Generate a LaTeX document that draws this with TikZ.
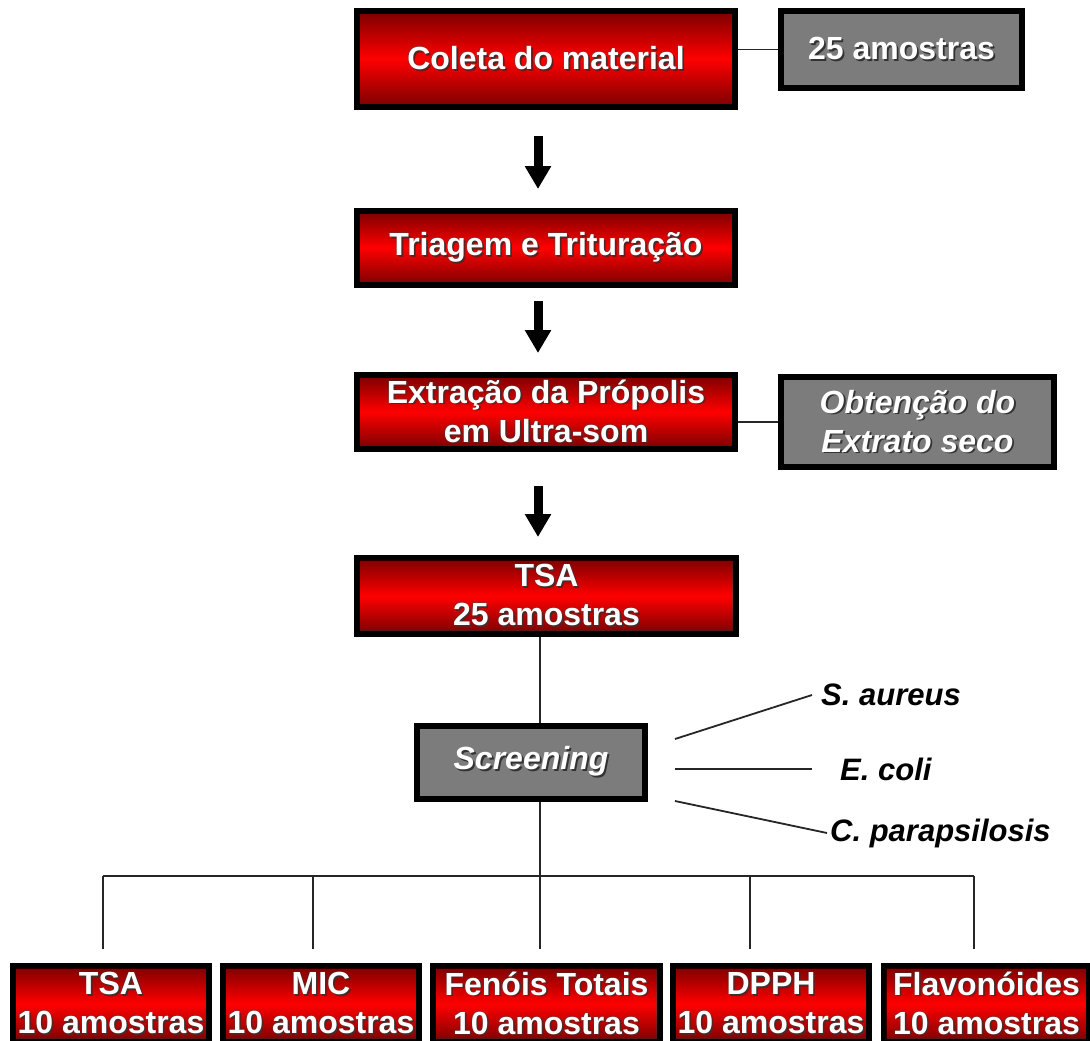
\documentclass[tikz,border=0pt]{standalone}
\usepackage{fontspec}
\setmainfont{Liberation Sans}
\usetikzlibrary{arrows.meta,calc}
\definecolor{dred}{HTML}{7A0000}
\definecolor{bred}{HTML}{FF0000}
\definecolor{boxgray}{HTML}{7C7C7C}
\newcommand\stx[1]{\leavevmode\rlap{\kern1.8pt\raisebox{-1.8pt}{\color{black!80}#1}}{\color{white}#1}}
\tikzset{
  redbox/.style={draw=black, line width=6pt, shading=axis, top color=dred, bottom color=dred, middle color=bred,
    inner sep=1pt, align=center, font=\fontsize{32}{39}\selectfont\bfseries},
  graybox/.style={draw=black, line width=6pt, fill=boxgray, inner sep=1pt, align=center,
    font=\fontsize{32}{39}\selectfont\bfseries},
  lbl/.style={inner sep=0pt, anchor=west, font=\fontsize{31}{36}\selectfont\bfseries\itshape},
  conn/.style={draw=black!85, line width=1.8pt},
  bigarrow/.style={draw=black, line width=9pt, -{Triangle[width=25pt,length=23pt]}}
}
\begin{document}
\begin{tikzpicture}[x=1pt,y=-1pt]
\useasboundingbox (0,0) rectangle (1090,1041);
\clip (0,0) rectangle (1090,1041);
% coordinates
\coordinate (mx) at (540,0);
\coordinate (ax) at (538,0);
\coordinate (bus) at (540,876);
\coordinate (d1) at (103,876);
\coordinate (d2) at (313,876);
\coordinate (d3) at (540,876);
\coordinate (d4) at (750,876);
\coordinate (d5) at (974,876);
% nodes
\node[redbox, minimum width=378pt, minimum height=96pt] (coleta) at (546,59) {\stx{Coleta do material}};
\node[graybox, minimum width=241pt, minimum height=77pt] (am) at (901.5,49.5) {\stx{25 amostras}};
\node[redbox, minimum width=378pt, minimum height=74pt] (tri) at (546,248) {\stx{Triagem e Trituração}};
\node[redbox, minimum width=378pt, minimum height=74pt] (ext) at (546,412) {\stx{Extração da Própolis}\\\stx{em Ultra-som}};
\node[graybox, minimum width=273pt, minimum height=90pt, font=\fontsize{32}{39}\selectfont\bfseries\itshape] (obt) at (917.5,422) {\stx{Obtenção do}\\\stx{Extrato seco}};
\node[redbox, minimum width=379pt, minimum height=76pt] (tsa) at (546.5,596) {\stx{TSA}\\\stx{25 amostras}};
\node[graybox, minimum width=228pt, minimum height=73pt, font=\fontsize{32}{39}\selectfont\bfseries\itshape] (scr) at (531,762.5) {\stx{Screening}};
\node[lbl] (sa) at (821,695) {S. aureus};
\node[lbl] (ec) at (840,769) {E. coli};
\node[lbl] (cp) at (830,833) {C. parapsilosis};
\node[redbox, minimum width=196pt, minimum height=76pt] (b1) at (111,1004) {\stx{TSA}\\\stx{10 amostras}};
\node[redbox, minimum width=196pt, minimum height=76pt] (b2) at (321,1004) {\stx{MIC}\\\stx{10 amostras}};
\node[redbox, minimum width=227pt, minimum height=76pt] (b3) at (546.5,1004) {\stx{Fenóis Totais}\\\stx{10 amostras}};
\node[redbox, minimum width=196pt, minimum height=76pt] (b4) at (771,1004) {\stx{DPPH}\\\stx{10 amostras}};
\node[redbox, minimum width=205pt, minimum height=76pt] (b5) at (986.5,1004) {\stx{Flavonóides}\\\stx{10 amostras}};
% connectors
\begin{scope}[on background layer/.style={}]
\draw[conn] (coleta.east |- am.west) -- (am.west);
\draw[conn] (ext.east |- obt.west) -- (obt.west);
\draw[conn] (tsa.south -| mx) -- (scr.north -| mx);
\draw[conn] (scr.south -| mx) -- (bus);
\draw[conn] (d1) -- (d5);
\draw[conn, shorten >=14pt] (d1) -- (d1 |- b1.north);
\draw[conn, shorten >=14pt] (d2) -- (d2 |- b2.north);
\draw[conn, shorten >=14pt] (d3) -- (d3 |- b3.north);
\draw[conn, shorten >=14pt] (d4) -- (d4 |- b4.north);
\draw[conn, shorten >=14pt] (d5) -- (d5 |- b5.north);
\draw[conn] ($(scr.east)+(27,-23.5)$) -- ($(sa.west)+(-9,0)$);
\draw[conn] ($(scr.east |- ec.west)+(27,0)$) -- ($(ec.west)+(-28,0)$);
\draw[conn] ($(scr.east)+(27,38.5)$) -- ($(cp.west)+(-3,0)$);
\draw[bigarrow, shorten <=26pt, shorten >=19pt] (coleta.south -| ax) -- (tri.north -| ax);
\draw[bigarrow, shorten <=13pt, shorten >=19pt] (tri.south -| ax) -- (ext.north -| ax);
\draw[bigarrow, shorten <=34pt, shorten >=18pt] (ext.south -| ax) -- (tsa.north -| ax);
\end{scope}
\end{tikzpicture}
\end{document}
